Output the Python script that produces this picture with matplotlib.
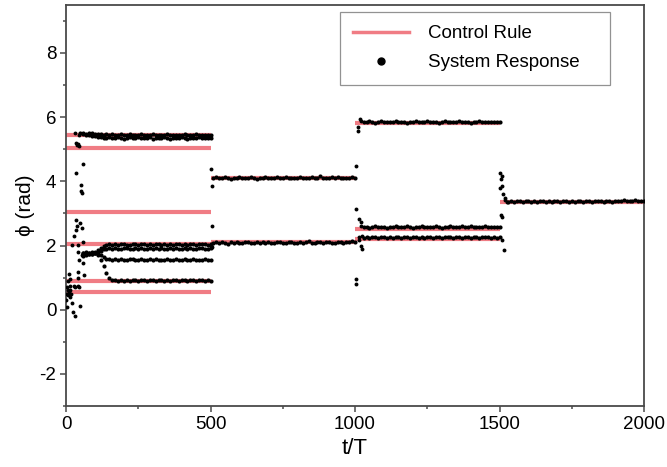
import numpy as np
import matplotlib
matplotlib.use("Agg")
import matplotlib.pyplot as plt
from matplotlib.lines import Line2D

# ---------------- data ----------------
# control rule: segment bounds and target levels
seg_starts = [0, 500, 1000, 1500]
seg_ends = [500, 1000, 1500, 2000]
ctrl_seg1 = [5.46, 5.05, 3.03, 2.04, 0.91, 0.55]
ctrl_seg2 = [4.10, 2.10]
ctrl_seg3 = [5.83, 2.53, 2.21]
ctrl_seg4 = [3.35]

STEP = 10  # sampling interval of the settled traces (t/T)

# segment 1 responses
a1_start = 50
a1 = [5.50, 5.52, 5.49, 5.51, 5.50, 5.48, 5.47, 5.49, 5.46, 5.47, 5.45, 5.48, 5.46, 5.44, 5.47, 5.45,
      5.46, 5.48, 5.45, 5.44, 5.46, 5.47, 5.45, 5.43, 5.46, 5.48, 5.45, 5.44, 5.46, 5.45, 5.47, 5.44,
      5.45, 5.46, 5.43, 5.45, 5.47, 5.44, 5.46, 5.45, 5.47, 5.44, 5.46, 5.45, 5.44, 5.46]
a2_start = 60
a2 = [5.47, 5.45, 5.44, 5.42, 5.40, 5.38, 5.37, 5.36, 5.35, 5.37, 5.34, 5.36, 5.38, 5.35, 5.33, 5.36,
      5.37, 5.34, 5.35, 5.38, 5.36, 5.34, 5.35, 5.37, 5.33, 5.35, 5.36, 5.34, 5.37, 5.35, 5.33, 5.36,
      5.35, 5.34, 5.37, 5.35, 5.33, 5.36, 5.34, 5.35, 5.37, 5.34, 5.36, 5.35, 5.36]
b1_start = 60
b1 = [1.78, 1.80, 1.77, 1.79, 1.81, 1.85, 1.92, 1.98, 2.02, 2.04, 2.03, 2.05, 2.02, 2.04, 2.06, 2.03,
      2.02, 2.05, 2.04, 2.03, 2.06, 2.04, 2.02, 2.05, 2.03, 2.04, 2.06, 2.03, 2.05, 2.02, 2.04, 2.03,
      2.05, 2.06, 2.03, 2.04, 2.02, 2.05, 2.04, 2.03, 2.05, 2.04, 2.06, 2.03, 2.04]
b2_start = 60
b2 = [1.72, 1.75, 1.74, 1.76, 1.78, 1.80, 1.84, 1.88, 1.90, 1.91, 1.89, 1.92, 1.90, 1.88, 1.91, 1.93,
      1.90, 1.89, 1.92, 1.90, 1.91, 1.88, 1.90, 1.92, 1.89, 1.91, 1.90, 1.93, 1.89, 1.90, 1.92, 1.88,
      1.91, 1.90, 1.89, 1.92, 1.90, 1.91, 1.88, 1.90, 1.92, 1.91, 1.89, 1.90, 1.92]
b3_start = 60
b3 = [1.68, 1.72, 1.75, 1.73, 1.76, 1.74, 1.70, 1.64, 1.59, 1.57, 1.56, 1.58, 1.55, 1.57, 1.56, 1.54,
      1.57, 1.58, 1.55, 1.56, 1.57, 1.55, 1.54, 1.57, 1.56, 1.58, 1.55, 1.56, 1.54, 1.57, 1.56, 1.55,
      1.58, 1.56, 1.54, 1.57, 1.55, 1.56, 1.58, 1.55, 1.56, 1.54, 1.57, 1.56, 1.55]
b4_start = 60
b4 = [1.76, 1.74, 1.78, 1.75, 1.77, 1.72, 1.55, 1.35, 1.15, 0.98, 0.93, 0.92, 0.90, 0.93, 0.91, 0.92,
      0.90, 0.93, 0.92, 0.91, 0.94, 0.92, 0.90, 0.92, 0.93, 0.91, 0.92, 0.94, 0.91, 0.92, 0.90, 0.93,
      0.92, 0.91, 0.93, 0.92, 0.90, 0.92, 0.93, 0.91, 0.92, 0.94, 0.91, 0.92, 0.90]

# segment 2 responses
c1_start = 510
c1 = [4.10, 4.13, 4.09, 4.12, 4.14, 4.10, 4.08, 4.12, 4.11, 4.13, 4.09, 4.12, 4.10, 4.14, 4.11, 4.08,
      4.12, 4.10, 4.13, 4.11, 4.09, 4.12, 4.14, 4.10, 4.11, 4.13, 4.09, 4.12, 4.10, 4.11, 4.14, 4.12,
      4.09, 4.11, 4.13, 4.10, 4.12, 4.16, 4.11, 4.09, 4.12, 4.14, 4.10, 4.13, 4.11, 4.09, 4.12, 4.10,
      4.13, 4.11]
c2_start = 510
c2 = [2.08, 2.10, 2.07, 2.11, 2.09, 2.06, 2.10, 2.08, 2.11, 2.09, 2.07, 2.10, 2.12, 2.08, 2.09, 2.11,
      2.07, 2.10, 2.08, 2.12, 2.09, 2.07, 2.10, 2.11, 2.08, 2.09, 2.12, 2.10, 2.07, 2.09, 2.11, 2.08,
      2.10, 2.13, 2.09, 2.07, 2.10, 2.11, 2.08, 2.10, 2.12, 2.09, 2.08, 2.11, 2.10, 2.09, 2.12, 2.10,
      2.13, 2.11]

# segment 3 responses
d1_start = 1030
d1 = [5.86, 5.84, 5.87, 5.85, 5.83, 5.86, 5.88, 5.85, 5.84, 5.86, 5.85, 5.87, 5.84, 5.86, 5.85, 5.83,
      5.86, 5.85, 5.87, 5.84, 5.86, 5.85, 5.88, 5.84, 5.86, 5.85, 5.83, 5.86, 5.87, 5.85, 5.84, 5.86,
      5.85, 5.87, 5.84, 5.86, 5.85, 5.83, 5.86, 5.85, 5.87, 5.84, 5.86, 5.85, 5.84, 5.86, 5.85, 5.84]
d2_start = 1030
d2 = [2.57, 2.59, 2.56, 2.58, 2.60, 2.57, 2.59, 2.58, 2.56, 2.59, 2.57, 2.60, 2.58, 2.57, 2.59, 2.61,
      2.58, 2.56, 2.59, 2.58, 2.60, 2.57, 2.58, 2.59, 2.57, 2.60, 2.58, 2.56, 2.59, 2.58, 2.60, 2.57,
      2.59, 2.58, 2.61, 2.57, 2.58, 2.60, 2.58, 2.57, 2.59, 2.58, 2.60, 2.57, 2.59, 2.58, 2.57, 2.59]
d3_start = 1030
d3 = [2.25, 2.27, 2.24, 2.26, 2.28, 2.25, 2.27, 2.26, 2.24, 2.27, 2.25, 2.28, 2.26, 2.24, 2.27, 2.26,
      2.25, 2.28, 2.26, 2.24, 2.27, 2.25, 2.26, 2.28, 2.25, 2.27, 2.26, 2.24, 2.27, 2.26, 2.28, 2.25,
      2.26, 2.27, 2.24, 2.26, 2.28, 2.25, 2.27, 2.26, 2.25, 2.27, 2.26, 2.28, 2.25, 2.26, 2.24, 2.26]

# segment 4 response
e1_start = 1530
e1 = [3.37, 3.39, 3.36, 3.38, 3.40, 3.37, 3.39, 3.38, 3.36, 3.39, 3.37, 3.40, 3.38, 3.37, 3.39, 3.36,
      3.38, 3.40, 3.37, 3.39, 3.38, 3.36, 3.39, 3.37, 3.38, 3.40, 3.37, 3.39, 3.38, 3.36, 3.39, 3.38,
      3.40, 3.37, 3.38, 3.39, 3.37, 3.40, 3.38, 3.39, 3.41, 3.38, 3.40, 3.39, 3.41, 3.38, 3.40, 3.39]

# transient (scattered) response points
trans_t = [0, 2, 3, 5, 6, 8, 8, 10, 10, 12, 13, 15, 15, 18, 20, 22, 25, 27, 28, 30, 30, 32, 33, 35,
           35, 36, 38, 38, 40, 40, 40, 42, 42, 43, 44, 45, 45, 46, 48, 50, 52, 53, 54, 55, 55, 58,
           58, 60, 62,
           503, 505, 505, 503, 506,
           1005, 1005, 1005, 1005, 1010, 1010, 1018, 1015, 1020, 1012, 1015, 1020, 1025, 1022,
           1020, 1025,
           1502, 1510, 1505, 1508, 1502, 1512, 1518, 1505, 1508, 1510, 1514, 1520, 1525]
trans_v = [0.30, 0.08, 0.50, 0.70, 0.45, 0.90, 0.60, 1.10, 0.55, 0.75, 0.40, 0.95, 0.60, 0.50, 2.03,
           0.20, -0.08, 2.30, 0.75, 5.50, -0.18, 0.70, 5.20, 4.25, 2.80, 2.50, 5.12, 2.60, 1.80, 1.00,
           5.15, 2.03, 1.17, 0.75, 5.43, 1.55, 0.70, 5.10, 0.13, 2.70, 3.90, 3.70, 3.65, 2.55, 1.70,
           4.55, 2.10, 1.45, 1.07,
           4.39, 3.84, 2.60, 2.00, 1.95,
           4.48, 3.15, 0.97, 0.81, 5.69, 5.56, 5.95, 2.83, 2.73, 2.26, 2.17, 2.00, 1.90, 5.88,
           2.62, 2.30,
           4.26, 4.16, 4.06, 3.87, 3.80, 3.62, 3.48, 2.94, 2.88, 2.16, 1.85, 3.42, 3.35]

# ---------------- style ----------------
FONT = ["Liberation Sans", "DejaVu Sans"]
plt.rcParams["font.family"] = FONT
plt.rcParams["axes.unicode_minus"] = False
CTRL_COLOR = "#f07c84"
AX_COLOR = "#4a4a4a"

fig = plt.figure(figsize=(6.67, 4.67), dpi=100)
ax = fig.add_axes([0.099, 0.1306, 0.8666, 0.859])

# control rule lines
for s, e, levels in zip(seg_starts, seg_ends, [ctrl_seg1, ctrl_seg2, ctrl_seg3, ctrl_seg4]):
    ax.hlines(levels, s, e, colors=CTRL_COLOR, linewidth=3.0, zorder=2)

# response traces
traces = [(a1_start, a1), (a2_start, a2), (b1_start, b1), (b2_start, b2), (b3_start, b3),
          (b4_start, b4), (c1_start, c1), (c2_start, c2), (d1_start, d1), (d2_start, d2),
          (d3_start, d3), (e1_start, e1)]
for t0, vals in traces:
    tt = t0 + STEP * np.arange(len(vals))
    ax.plot(tt, vals, linestyle="none", marker="o", ms=3.0, color="black", mec="none", zorder=3)
ax.plot(trans_t, trans_v, linestyle="none", marker="o", ms=2.8, color="black", mec="none", zorder=3)

ax.set_xlim(0, 2000)
ax.set_ylim(-3, 9.5)
ax.set_xticks([0, 500, 1000, 1500, 2000])
ax.set_xticks([250, 750, 1250, 1750], minor=True)
ax.set_yticks([-2, 0, 2, 4, 6, 8])
ax.set_yticks([-3, -1, 1, 3, 5, 7, 9], minor=True)
ax.tick_params(axis="both", which="major", direction="out", length=4, width=1.1,
               color=AX_COLOR, labelsize=13.5, pad=3)
ax.tick_params(axis="both", which="minor", direction="out", length=2.5, width=1.1, color=AX_COLOR)
ax.tick_params(top=False, right=False)
for sp in ax.spines.values():
    sp.set_color(AX_COLOR)
    sp.set_linewidth(1.3)

ax.set_xlabel("t/T", fontsize=16, labelpad=4)
ax.set_ylabel("ϕ (rad)", fontsize=15, labelpad=3)

handles = [Line2D([], [], color=CTRL_COLOR, linewidth=2.5),
           Line2D([], [], linestyle="none", marker="o", ms=5, color="black")]
leg = ax.legend(handles, ["Control Rule", "System Response"], loc="upper left",
                bbox_to_anchor=(0.474, 0.9825, 0.467, 0.0), mode="expand",
                frameon=True, fancybox=False, fontsize=13.5,
                handlelength=3.0, handletextpad=1.0, borderpad=0.7, labelspacing=0.65,
                borderaxespad=0.0)
leg.get_frame().set_edgecolor("#777777")
leg.get_frame().set_linewidth(0.9)

fig.savefig("out.png", dpi=100)
